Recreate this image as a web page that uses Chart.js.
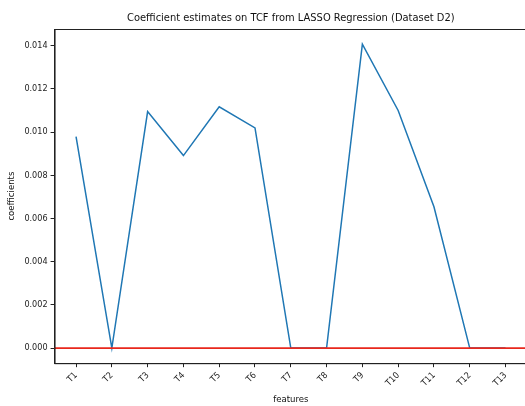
<!DOCTYPE html>
<html lang="en">
<head>
    <meta charset="UTF-8">
    <title>LASSO coefficients</title>
    <script src="https://cdn.jsdelivr.net/npm/chart.js"></script>
    <style>
        html, body { margin: 0; padding: 0; overflow: hidden; background: #fff; }
        #wrap { width: 530px; height: 406px; }
    </style>
</head>
<body>
    <div id="wrap"><canvas id="coefChart"></canvas></div>
    <script>
        // features and their LASSO coefficients
        const features = ['T1', 'T2', 'T3', 'T4', 'T5', 'T6', 'T7', 'T8', 'T9', 'T10', 'T11', 'T12', 'T13'];
        const coefficients = [0.00979, 0.0, 0.01095, 0.00891, 0.01117, 0.01019, 0.0, 0.0, 0.01407, 0.0110, 0.00654, 0.0, 0.0];
        const yTicks = [0.000, 0.002, 0.004, 0.006, 0.008, 0.010, 0.012, 0.014];
        const titleText = 'Coefficient estimates on TCF from LASSO Regression (Dataset D2)';

        const font = 'DejaVu Sans Condensed';
        const ink = '#222';

        // title centred over the plot area, red zero line, frame (matplotlib style)
        const framePlugin = {
            id: 'frame',
            afterDatasetsDraw(chart) {
                const { ctx, chartArea: a, scales } = chart;
                const y0 = scales.y.getPixelForValue(0);
                ctx.save();
                ctx.strokeStyle = '#e8271c';
                ctx.lineWidth = 1.8;
                ctx.beginPath();
                ctx.moveTo(a.left, y0);
                ctx.lineTo(a.right, y0);
                ctx.stroke();
                ctx.strokeStyle = ink;
                ctx.lineWidth = 1;
                ctx.strokeRect(a.left + 0.5, a.top + 0.5, a.right - a.left, a.bottom - a.top);
                ctx.fillStyle = '#111';
                ctx.font = '11px "' + font + '"';
                ctx.textAlign = 'center';
                ctx.textBaseline = 'middle';
                ctx.fillText(titleText, (a.left + a.right) / 2, 18);
                ctx.restore();
            }
        };

        new Chart(document.getElementById('coefChart'), {
            type: 'line',
            data: {
                datasets: [{
                    data: coefficients.map((v, i) => ({ x: i, y: v })),
                    borderColor: '#1f77b4',
                    borderWidth: 1.5,
                    pointRadius: 0,
                    fill: false,
                    tension: 0
                }]
            },
            options: {
                responsive: true,
                maintainAspectRatio: false,
                animation: false,
                layout: { padding: { left: 6, right: 3, top: 29, bottom: 1 } },
                plugins: {
                    legend: { display: false },
                    tooltip: { enabled: false },
                    title: { display: false }
                },
                scales: {
                    x: {
                        type: 'linear',
                        min: -0.6,
                        max: 12.6,
                        afterBuildTicks(scale) {
                            scale.ticks = features.map((_, i) => ({ value: i }));
                        },
                        ticks: {
                            autoSkip: false,
                            minRotation: 45,
                            maxRotation: 45,
                            color: ink,
                            font: { family: font, size: 9 },
                            callback: v => features[v]
                        },
                        grid: { drawOnChartArea: false, color: ink, tickLength: 4 },
                        border: { color: ink },
                        title: {
                            display: true,
                            text: 'features',
                            color: '#111',
                            font: { family: font, size: 9.5 },
                            padding: { top: 2, bottom: 0 }
                        }
                    },
                    y: {
                        min: -0.0007,
                        max: 0.01477,
                        afterBuildTicks(scale) {
                            scale.ticks = yTicks.map(v => ({ value: v }));
                        },
                        ticks: {
                            color: ink,
                            font: { family: font, size: 9 },
                            callback: v => v.toFixed(3)
                        },
                        grid: { drawOnChartArea: false, color: ink, tickLength: 4 },
                        border: { color: ink },
                        title: {
                            display: true,
                            text: 'coefficients',
                            color: '#111',
                            font: { family: font, size: 9.5 },
                            padding: { top: 0, bottom: 4 }
                        }
                    }
                }
            },
            plugins: [framePlugin]
        });
    </script>
</body>
</html>
